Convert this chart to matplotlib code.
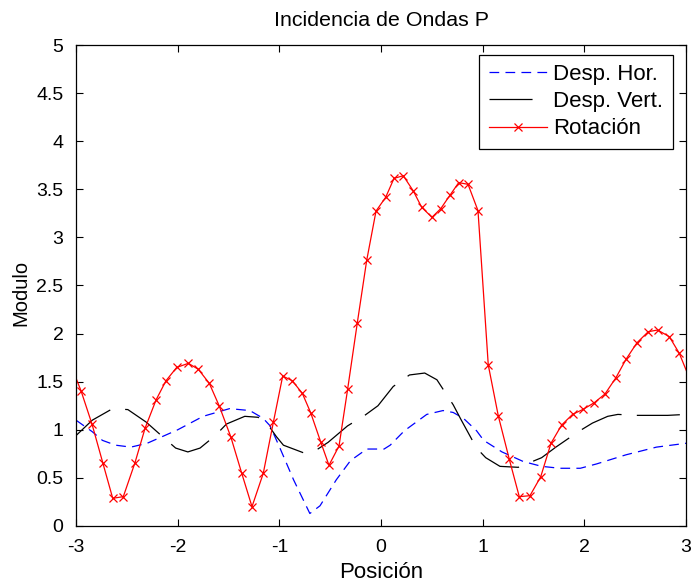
import matplotlib
matplotlib.use('Agg')
import matplotlib.pyplot as plt

plt.rcParams['font.family'] = ['Liberation Sans', 'DejaVu Sans']
plt.rcParams['axes.unicode_minus'] = False
plt.rcParams['lines.scale_dashes'] = False

# Desp. Hor.
hor_x = [-3.0, -2.84, -2.74, -2.61, -2.46, -2.3, -2.15, -2.0, -1.75, -1.49, -1.29, -1.16,
         -1.09, -0.99, -0.86, -0.70, -0.60, -0.44, -0.30, -0.14, 0.03, 0.09, 0.23, 0.45,
         0.61, 0.71, 0.81, 0.94, 1.01, 1.19, 1.40, 1.58, 1.76, 1.96, 2.12, 2.41, 2.71, 3.0]
hor_y = [1.10, 0.98, 0.89, 0.84, 0.82, 0.86, 0.93, 1.00, 1.14, 1.22, 1.20, 1.12,
         1.04, 0.80, 0.48, 0.13, 0.21, 0.48, 0.68, 0.80, 0.80, 0.84, 0.99, 1.16,
         1.20, 1.18, 1.12, 0.99, 0.89, 0.77, 0.67, 0.62, 0.60, 0.60, 0.645, 0.74, 0.82, 0.86]

# Desp. Vert.
ver_x = [-3.0, -2.84, -2.64, -2.49, -2.31, -2.15, -2.02, -1.90, -1.78, -1.63, -1.52, -1.34,
         -1.21, -1.13, -1.03, -0.96, -0.76, -0.65, -0.52, -0.33, -0.16, -0.03, 0.12, 0.28,
         0.43, 0.55, 0.71, 0.79, 0.94, 1.03, 1.17, 1.35, 1.58, 1.72, 1.94, 2.08, 2.23, 2.33,
         2.51, 2.67, 2.82, 3.0]
ver_y = [0.94, 1.10, 1.22, 1.21, 1.08, 0.93, 0.81, 0.77, 0.81, 0.94, 1.06, 1.14,
         1.13, 1.08, 0.93, 0.84, 0.76, 0.78, 0.87, 1.04, 1.15, 1.25, 1.45, 1.57,
         1.59, 1.52, 1.26, 1.10, 0.81, 0.71, 0.62, 0.61, 0.71, 0.82, 0.98, 1.07, 1.14, 1.16,
         1.15, 1.15, 1.15, 1.16]

# Rotación
rot_x = [-3.05, -2.951, -2.843, -2.737, -2.639, -2.535, -2.420, -2.321, -2.213, -2.115, -2.010,
         -1.895, -1.797, -1.689, -1.591, -1.478, -1.370, -1.269, -1.158, -1.059, -0.967,
         -0.873, -0.774, -0.692, -0.593, -0.512, -0.413, -0.328, -0.233, -0.141, -0.049,
         0.046, 0.128, 0.219, 0.318, 0.400, 0.501, 0.587, 0.678, 0.764, 0.856, 0.954,
         1.055, 1.154, 1.262, 1.360, 1.465, 1.571, 1.672, 1.777, 1.885, 1.989, 2.098,
         2.203, 2.311, 2.410, 2.518, 2.629, 2.721, 2.836, 2.934, 3.04]
rot_y = [1.67, 1.406, 1.060, 0.658, 0.288, 0.305, 0.658, 1.016, 1.310, 1.510, 1.648,
         1.691, 1.629, 1.483, 1.247, 0.928, 0.548, 0.201, 0.548, 1.078, 1.559,
         1.510, 1.379, 1.178, 0.873, 0.631, 0.832, 1.424, 2.113, 2.760, 3.274,
         3.417, 3.614, 3.641, 3.482, 3.313, 3.209, 3.298, 3.438, 3.569, 3.552, 3.278,
         1.674, 1.143, 0.693, 0.305, 0.315, 0.512, 0.860, 1.050, 1.161, 1.213, 1.282,
         1.372, 1.542, 1.733, 1.905, 2.020, 2.037, 1.968, 1.795, 1.52]

fig = plt.figure(figsize=(6.93, 5.86), dpi=100)
ax = fig.add_axes([0.1097, 0.1024, 0.8802, 0.8208])

ax.plot(hor_x, hor_y, color='blue', lw=0.9, ls=(0, (7, 4.5)), label='Desp. Hor.')
ax.plot(ver_x, ver_y, color='black', lw=0.9, ls=(0, (31, 11)), label='Desp. Vert.')
ax.plot(rot_x, rot_y, color='red', lw=0.9, marker='x', ms=5.5, mew=0.9, label='Rotación')

ax.set_xlim(-3, 3)
ax.set_ylim(0, 5)
ax.set_xticks(range(-3, 4))
ax.set_yticks([i * 0.5 for i in range(11)])
ax.set_yticklabels(['0', '0.5', '1', '1.5', '2', '2.5', '3', '3.5', '4', '4.5', '5'])
ax.tick_params(direction='in', top=True, right=True, length=5, width=0.8, labelsize=14)
ax.tick_params(axis='x', pad=9.5)
ax.tick_params(axis='y', pad=9)
for s in ax.spines.values():
    s.set_linewidth(0.9)

ax.set_title('Incidencia de Ondas P', fontsize=15.4, pad=14)
ax.set_xlabel('Posición', fontsize=16, labelpad=4)
ax.set_ylabel('Modulo', fontsize=14.5, labelpad=4.5, y=0.484)

leg = ax.legend(loc='upper right', bbox_to_anchor=(0.978, 0.980), borderaxespad=0,
                fontsize=16, handlelength=2.6, handletextpad=0.3, labelspacing=0.28,
                borderpad=0.42, fancybox=False, framealpha=1, edgecolor='black')
leg.get_frame().set_linewidth(0.9)

fig.savefig('out.png', dpi=100)
